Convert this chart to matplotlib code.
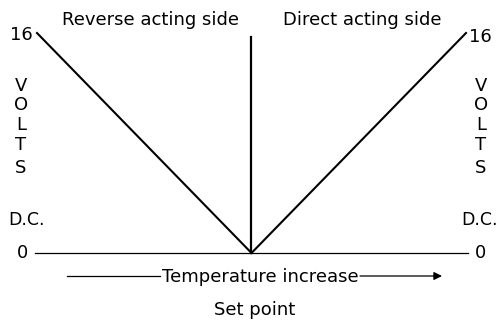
import matplotlib
matplotlib.use("Agg")
import matplotlib.pyplot as plt

# Controller output voltage vs. temperature around the set point
temp = [-1.0, 0.0, 1.0]          # temperature relative to set point
volts = [16.0, 0.0, 16.0]        # output volts D.C.
setpoint_x = [0.0, 0.0]
setpoint_y = [0.0, 15.7]
baseline_x = [-1.01, 1.01]
baseline_y = [0.0, 0.0]
tick_values = [0, 16]
side_labels = ["Reverse acting side", "Direct acting side"]
volts_letters = list("VOLTS")

plt.rcParams["font.family"] = ["DejaVu Sans"]
fs = 13

fig = plt.figure(figsize=(4.99, 3.22), dpi=100)
W, H = 499, 322
x0, x1 = 37, 466
y0, y1 = 253, 33
ax = fig.add_axes([x0 / W, 1 - y0 / H, (x1 - x0) / W, (y0 - y1) / H])
ax.set_xlim(-1, 1)
ax.set_ylim(0, 16)
ax.set_axis_off()

# V-shaped response and the set point line
ax.plot(temp, volts, color="black", lw=1.5, clip_on=False, solid_joinstyle="miter")
ax.plot(setpoint_x, setpoint_y, color="black", lw=1.6, clip_on=False)
ax.plot(baseline_x, baseline_y, color="black", lw=0.9, clip_on=False)

def px_to_data(px, py):
    return (-1 + 2 * (px - x0) / (x1 - x0), 16 * (y0 - py) / (y0 - y1))

def put(txt, px, py, ha="center", va="center", size=fs):
    x, y = px_to_data(px, py)
    ax.text(x, y, txt, ha=ha, va=va, fontsize=size, clip_on=False)

# Axis values on both sides
put(str(tick_values[1]), 33, 35, ha="right")
put(str(tick_values[1]), 469, 37, ha="left")
put(str(tick_values[0]), 22, 253)
put(str(tick_values[0]), 481, 253)

# Vertical "VOLTS D.C." captions
letter_y = [86, 105, 125, 145, 168]
for ch, py in zip(volts_letters, letter_y):
    put(ch, 21, py)
    put(ch, 481, py)
put("D.C.", 26, 220, size=12.5)
put("D.C.", 498, 220, ha="right", size=12.5)

# Side titles
put(side_labels[0], 150, 20)
put(side_labels[1], 362, 20)

# Temperature arrow
put("Temperature increase", 260, 282, va="baseline")
ax.plot(*zip(px_to_data(67, 276), px_to_data(160, 276)), color="black", lw=0.9, clip_on=False)
ax.annotate("", xy=px_to_data(442, 276), xytext=px_to_data(360, 276),
            arrowprops=dict(arrowstyle="-|>", color="black", lw=0.9,
                            mutation_scale=12, shrinkA=0, shrinkB=0),
            annotation_clip=False)

put("Set point", 255, 315, va="baseline")

fig.savefig("out.png", dpi=100)
